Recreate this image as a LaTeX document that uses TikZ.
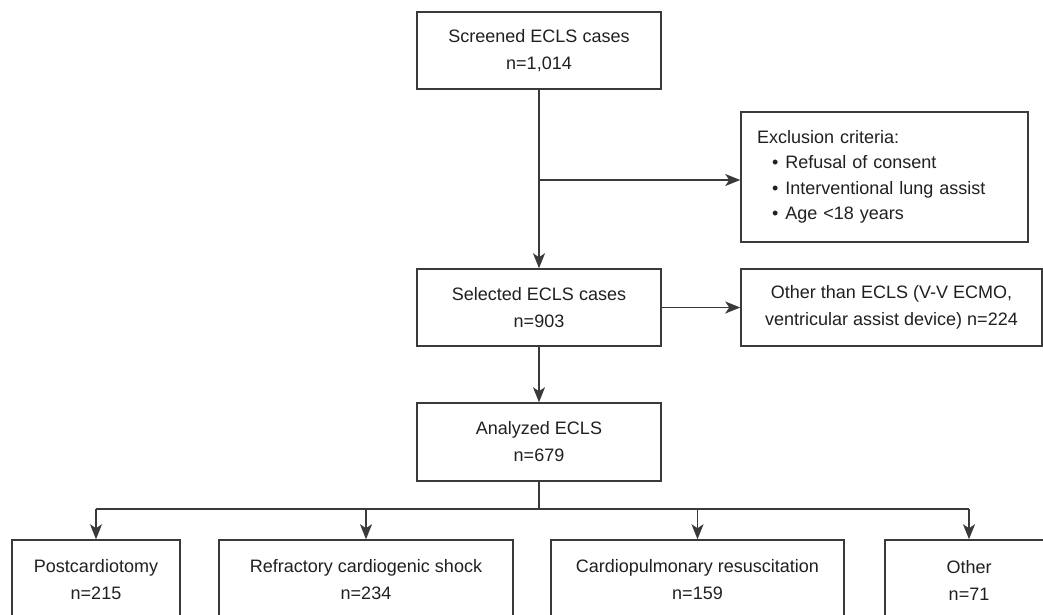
\documentclass[tikz,border=0pt]{standalone}
\usepackage{fontspec}
\setmainfont{Liberation Sans}
\usetikzlibrary{arrows.meta}
\definecolor{ink}{HTML}{231F20}
\definecolor{linec}{HTML}{3A3A3A}
\begin{document}
\begin{tikzpicture}[x=1pt,y=-1pt,
  box/.style={draw=linec, line width=1.5pt, rectangle, inner sep=0pt, align=center,
    text=ink, font=\fontsize{18}{27}\selectfont},
  conn/.style={draw=linec, line width=1.5pt},
  arr/.style={conn, -{Stealth[length=15pt,width=12pt,inset=4pt]}}]
\useasboundingbox (0,0) rectangle (1043,614);
\clip (0,0) rectangle (1043,614);
\fill[white] (0,0) rectangle (1043,614);
% main column
\node[box, minimum width=244pt, minimum height=77pt] (scr) at (539,50.5) {Screened ECLS cases\\n=1,014};
\node[box, minimum width=244pt, minimum height=77pt] (sel) at (539,307.5) {Selected ECLS cases\\n=903};
\node[box, minimum width=244pt, minimum height=78pt] (ana) at (539,442) {Analyzed ECLS\\n=679};
% side boxes
\node[box, minimum width=287pt, minimum height=130pt, text width=255pt, align=left,
  font=\fontsize{18}{25.5}\selectfont] (excl) at (884.5,177)
  {Exclusion criteria:\\
   \hspace*{15pt}•\hspace{7pt}Refusal of consent\\
   \hspace*{15pt}•\hspace{7pt}Interventional lung assist\\
   \hspace*{15pt}•\hspace{7pt}Age <18 years};
\node[box, minimum width=301pt, minimum height=77pt] (oth) at (891.5,307.5) {Other than ECLS (V-V ECMO,\\ventricular assist device) n=224};
% bottom boxes
\node[box, minimum width=168pt, minimum height=80pt] (b1) at (96,580) {Postcardiotomy\\n=215};
\node[box, minimum width=294pt, minimum height=80pt] (b2) at (366,580) {Refractory cardiogenic shock\\n=234};
\node[box, minimum width=293pt, minimum height=80pt] (b3) at (697.5,580) {Cardiopulmonary resuscitation\\n=159};
\node[box, minimum width=168pt, minimum height=80pt] (b4) at (969,580) {Other\\n=71};
% connectors
\coordinate (j1) at (539,180);
\coordinate (j2) at (539,509);
\draw[arr] (scr.south) -- (sel.north);
\draw[arr] (j1) -- (j1 -| excl.west);
\draw[arr] (sel.east) -- (oth.west);
\draw[arr] (sel.south) -- (ana.north);
\draw[conn] (ana.south) -- (j2);
\draw[conn] (j2 -| b1.north) -- (j2 -| b4.north);
\draw[arr] (j2 -| b1.north) -- (b1.north);
\draw[arr] (j2 -| b2.north) -- (b2.north);
\draw[arr] (j2 -| b3.north) -- (b3.north);
\draw[arr] (j2 -| b4.north) -- (b4.north);
\end{tikzpicture}
\end{document}
